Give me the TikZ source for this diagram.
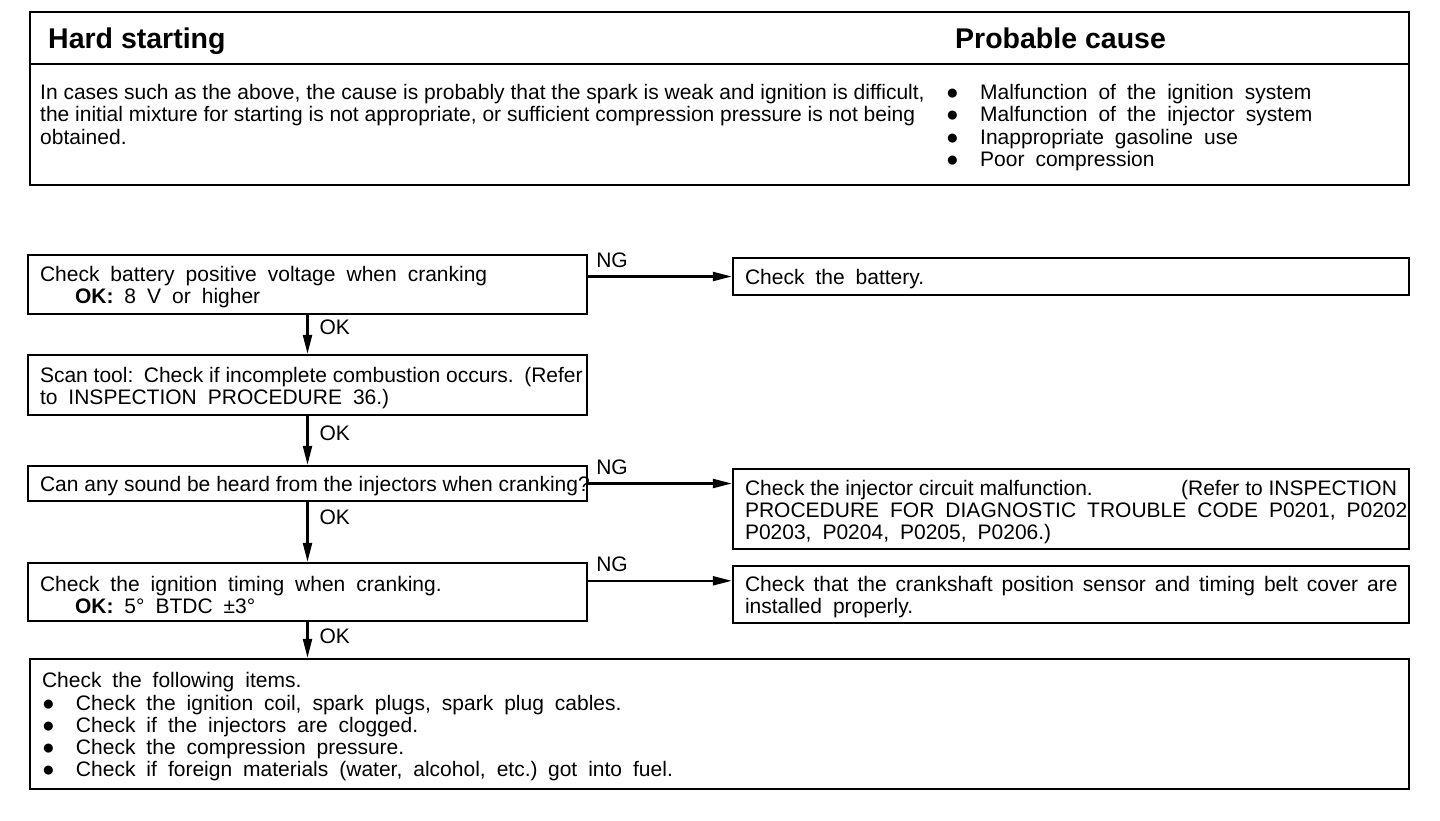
\documentclass[tikz,border=0pt]{standalone}
\usepackage{fontspec}
\setmainfont{Liberation Sans}
\usetikzlibrary{arrows.meta}

\newcommand{\wide}{\spaceskip=11pt plus 2pt minus 2pt\relax}
\newcommand{\tight}{\spaceskip=0pt\relax}
\newcommand{\blt}{\makebox[34pt][l]{●}}

\begin{document}
\begin{tikzpicture}[x=1pt,y=-1pt,>={Triangle[length=19pt,width=9pt]},
    txt/.style={inner sep=0pt,align=left,font=\fontsize{21}{22.3}\selectfont\wide},
    plain/.style={inner sep=0pt,align=left,font=\fontsize{21}{22.3}\selectfont\tight},
    head/.style={inner sep=0pt,font=\fontsize{28.5}{30}\selectfont\bfseries},
    frame/.style={line width=2.4pt},
    panel/.style={draw,line width=2.4pt,inner xsep=12pt,inner ysep=0pt,align=left,
        font=\fontsize{21}{22.3}\selectfont,execute at begin node={\rule{0pt}{21pt}\wide}},
    link/.style={->,line width=2.2pt},
    okl/.style={anchor=west,inner sep=0pt,xshift=11pt,font=\fontsize{21}{22.3}\selectfont},
    ngl/.style={anchor=south west,inner sep=0pt,xshift=7pt,yshift=8pt,font=\fontsize{21}{22.3}\selectfont}]
    \useasboundingbox (0,0) rectangle (1440,820);

    % summary table
    \draw [frame] (30,12) rectangle (1409,185);
    \draw [frame] (30,64) -- (1409,64);
    \node [head,anchor=base west] (title) at (48,48.5) {Hard starting};
    \node [head,anchor=base west] (cause) at (955,48.5) {Probable cause};
    \node [plain,anchor=north west] (why) at (40,84) {In cases such as the above, the cause is probably that the spark is weak and ignition is difficult,\\
        the initial mixture for starting is not appropriate, or sufficient compression pressure is not being\\
        obtained.};
    \node [txt,anchor=north west] (causes) at (946,84) {\blt Malfunction of the ignition system\\
        \blt Malfunction of the injector system\\
        \blt Inappropriate gasoline use\\
        \blt Poor compression};

    % checks
    \node [panel,text width=535pt,minimum height=59pt] (battery) at (307.5,284.5)
        {Check battery positive voltage when cranking\\\hspace*{35pt}\textbf{OK:} 8 V or higher};
    \node [panel,text width=535pt,minimum height=60pt] (scan) at (307.5,385)
        {\tight\mbox{Scan tool: Check if incomplete combustion occurs. (Refer}\\\wide to INSPECTION PROCEDURE 36.)};
    \node [panel,text width=535pt,minimum height=35pt] (sound) at (307.5,483.5)
        {\tight\mbox{Can any sound be heard from the injectors when cranking?}};
    \node [panel,text width=535pt,minimum height=58pt] (timing) at (307.5,592)
        {Check the ignition timing when cranking.\\\hspace*{35pt}\textbf{OK:} 5° BTDC ±3°};
    \node [panel,text width=1355pt,minimum height=130pt] (items) at (719.5,724)
        {Check the following items.\\
        \blt Check the ignition coil, spark plugs, spark plug cables.\\
        \blt Check if the injectors are clogged.\\
        \blt Check the compression pressure.\\
        \blt Check if foreign materials (water, alcohol, etc.) got into fuel.};

    % remedies
    \node [panel,text width=652pt,minimum height=37pt] (batt) at (1071,276.5) {Check the battery.};
    \node [panel,text width=652pt,minimum height=80pt] (inj) at (1071,509)
        {\tight Check the injector circuit malfunction.\hfill(Refer to INSPECTION\hspace*{-16pt}\\
        \wide\mbox{PROCEDURE FOR DIAGNOSTIC TROUBLE CODE P0201, P0202}\\
        P0203, P0204, P0205, P0206.)};
    \node [panel,text width=652pt,minimum height=57pt] (crank) at (1071,594.5)
        {\spaceskip=9pt\mbox{Check that the crankshaft position sensor and timing belt cover are}\\\wide installed properly.};

    % OK path
    \draw [link] (battery) -- node [okl,pos=0.3] {OK} (scan);
    \draw [link] (scan) -- node [okl,pos=0.35] {OK} (sound);
    \draw [link] (sound) -- node [okl,pos=0.25] {OK} (timing);
    \draw [link] (timing.south) -- node [okl,pos=0.4] {OK} (timing.south |- items.north);

    % NG path
    \draw [link] (battery.east |- batt.west) -- node [ngl,pos=0] {NG} (batt.west);
    \draw [link] (sound.east) -- node [ngl,pos=0] {NG} (sound.east -| inj.west);
    \coordinate (tm) at ([yshift=-19pt]timing.north east);
    \draw [link] (tm) -- node [ngl,pos=0] {NG} (tm -| crank.west);
\end{tikzpicture}
\end{document}
